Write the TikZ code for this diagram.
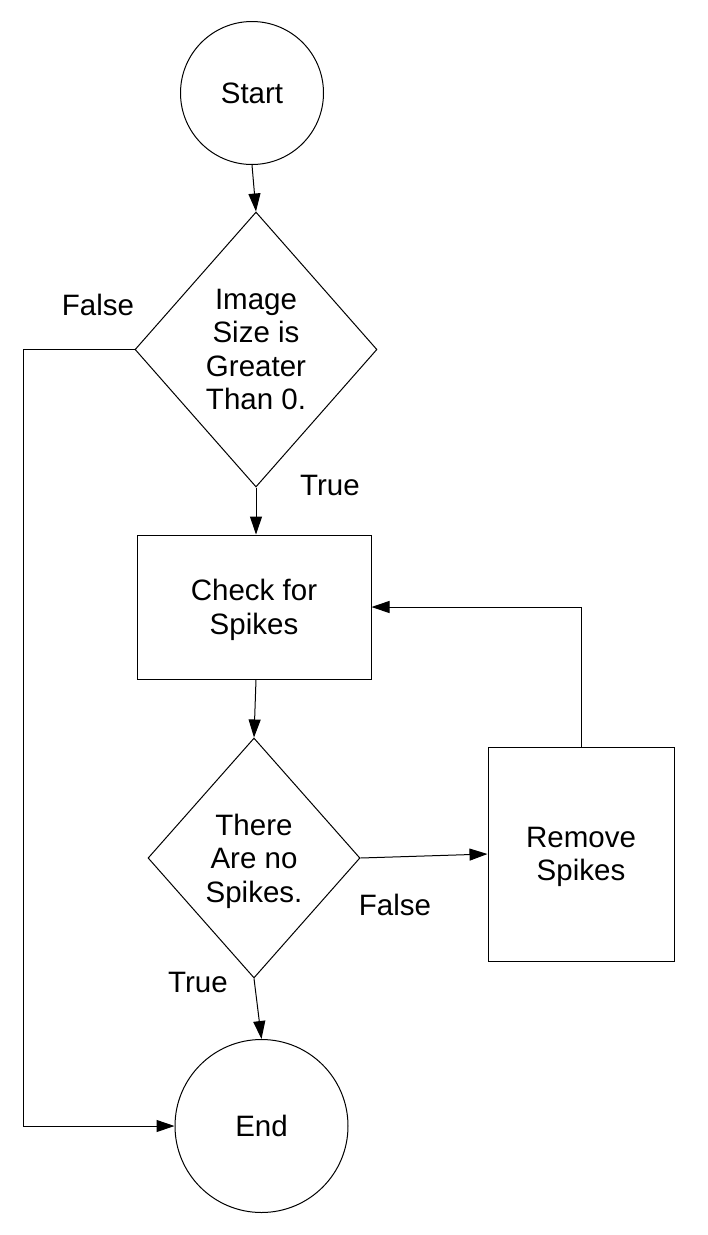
\documentclass[tikz,border=0pt]{standalone}
\usepackage{fontspec}
\setmainfont{Liberation Sans}
\usetikzlibrary{shapes.geometric,arrows.meta}
\begin{document}
\begin{tikzpicture}[x=1pt,y=-1pt,
  every node/.style={font=\fontsize{29.5}{33.5}\selectfont},
  shp/.style={draw,line width=1pt,inner sep=0pt},
  circ/.style={shp,circle},
  dia/.style={shp,diamond},
  boxn/.style={shp,rectangle},
  txt/.style={align=center,inner sep=0pt},
  mtxt/.style={txt,yshift=-3pt},
  conn/.style={line width=1pt,-{Triangle[length=18pt,width=12pt]}},
  plain/.style={line width=1pt}]
\useasboundingbox (0,0) rectangle (708,1235);
\node[circ,minimum size=143pt] (s) at (252,93) {};
\node[txt] at (s.center) {Start};
\node[dia,minimum width=242pt,minimum height=275pt] (d1) at (256,349.5) {};
\node[txt] at (d1.center) {Image\\Size is\\Greater\\Than 0.};
\node[boxn,minimum width=234pt,minimum height=144pt] (b1) at (254,607) {};
\node[mtxt] at (b1.center) {Check for\\Spikes};
\node[dia,minimum width=212pt,minimum height=240pt] (d2) at (254,858) {};
\node[mtxt] at (d2.center) {There\\Are no\\Spikes.};
\node[boxn,minimum width=186pt,minimum height=214pt] (b2) at (581,854) {};
\node[mtxt] at (b2.center) {Remove\\Spikes};
\node[circ,minimum size=173pt] (e) at (261.5,1126) {};
\node[txt] at (e.center) {End};
\node[txt] (lf1) at (98,305) {False};
\node[txt] (lt1) at (330,485) {True};
\node[txt] (lf2) at (395,905) {False};
\node[txt] (lt2) at (198,982) {True};
\coordinate (lx) at (23,0);
\draw[conn] (s.south) -- (d1.north);
\draw[conn] (d1.south) -- (d1.south |- b1.north);
\draw[conn] (b1.south -| d1.south) -- (d2.north);
\draw[conn] (d2.east) -- (b2.west);
\draw[conn] (b2.north) -- (b2.north |- b1.east) -- (b1.east);
\draw[conn] (d2.south) -- (e.north);
\draw[conn] (d1.west) -- (d1.west -| lx) |- (e.west);
\end{tikzpicture}
\end{document}
